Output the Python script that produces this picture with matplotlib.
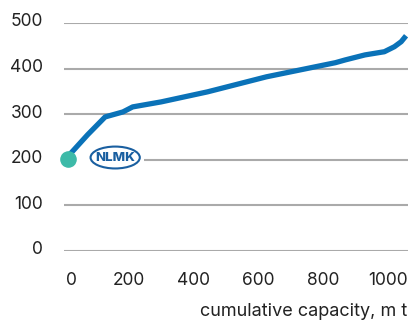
import matplotlib
matplotlib.use("Agg")
import matplotlib.pyplot as plt
from matplotlib.patches import Rectangle, Ellipse
from matplotlib.transforms import ScaledTranslation

plt.rcParams['font.family'] = ['Inter', 'DejaVu Sans']

# cost curve
capacity = [18, 73, 127, 182, 212, 300, 443, 625, 838, 868, 929, 989, 1020, 1041, 1056]
cost = [212, 255, 294, 305, 316, 327, 349, 382, 413, 419, 430, 437, 448, 459, 472]
nlmk_x, nlmk_y = 13, 202

yticks = [0, 100, 200, 300, 400, 500]
xticks = [0, 200, 400, 600, 800, 1000]

blue = '#0a72b8'
teal = '#3dbaa8'
logo = '#1a5fa0'
txt = '#222222'

fig = plt.figure(figsize=(4.08, 3.22), dpi=100)
ax = fig.add_axes([64/408, 71/322, 344/408, 228/322])
ax.set_xlim(18, 1062)
ax.set_ylim(0, 500)

ax.set_yticks(yticks)
ax.set_xticks(xticks)
ax.grid(axis='y', color='#aaaaaa', lw=1.5)
ax.grid(axis='x', visible=False)
ax.set_axisbelow(True)
for s in ax.spines.values():
    s.set_visible(False)
ax.tick_params(length=0, labelsize=12.5, labelcolor=txt)
ax.tick_params(axis='y', pad=15)
ax.tick_params(axis='x', pad=15)

# labels sit a little above their gridlines, the "0" is nudged right
for lab in ax.get_yticklabels():
    lab.set_transform(lab.get_transform() + ScaledTranslation(0, 3/100, fig.dpi_scale_trans))
xl0 = ax.get_xticklabels()[0]
xl0.set_transform(xl0.get_transform() + ScaledTranslation(7/100, 0, fig.dpi_scale_trans))

# white area behind the logo hides the 200 gridline
ax.add_patch(Rectangle((18, 185), 228, 30, facecolor='white', edgecolor='none', zorder=1))

ax.plot(capacity, cost, color=blue, lw=3.8, solid_capstyle='butt', solid_joinstyle='round', zorder=2, clip_on=False)
ax.scatter([nlmk_x], [nlmk_y], s=120, color=teal, zorder=3, clip_on=False)

ax.add_patch(Ellipse((158, 205), 152, 48, facecolor='white', edgecolor=logo, lw=1.5, zorder=4))
ax.text(158, 204, 'NLMK', ha='center', va='center', fontsize=9.5, fontweight='heavy', color=logo, zorder=5)

fig.text(407/408, 1 - 311/322, 'cumulative capacity, m t', ha='right', va='center', fontsize=13, color=txt)

fig.savefig('out.png', dpi=100)
